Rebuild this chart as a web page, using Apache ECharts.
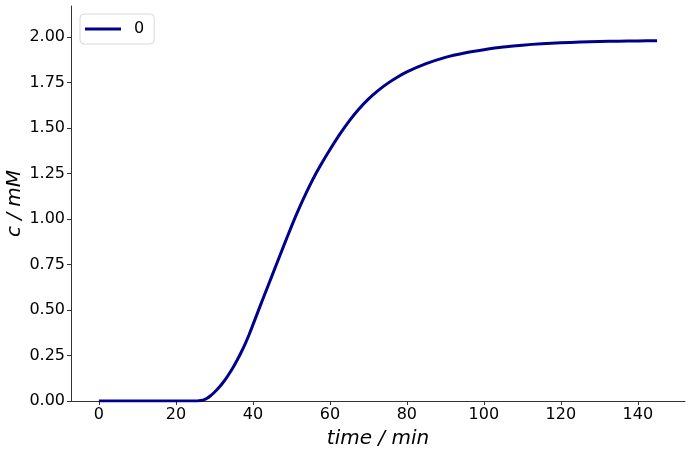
<!DOCTYPE html>
<html>
<head>
<meta charset="utf-8">
<script src="https://cdn.jsdelivr.net/npm/echarts@6/dist/echarts.min.js"></script>
<style>
  html, body { margin: 0; padding: 0; background: #fff; }
  #main { width: 690px; height: 452px; }
</style>
</head>
<body>
<div id="main"></div>
<script>
// time in minutes, concentration in mM
var timeMin = [0, 5, 10, 15, 20, 25, 26, 27, 28, 29, 30, 31, 32, 33, 34, 35, 36, 37, 38, 39, 40, 42, 44, 46, 48, 50,
  52, 54, 56, 58, 60, 62.5, 65, 67.5, 70, 72.5, 75, 77.5, 80, 85, 90, 95, 100, 105, 110, 115, 120, 125, 130, 135, 140, 145];
var concMM = [0, 0, 0, 0, 0, 0, 0.001, 0.005, 0.014, 0.029, 0.048, 0.07, 0.095, 0.123, 0.155, 0.19, 0.228, 0.269, 0.314, 0.364, 0.418, 0.528, 0.636, 0.744, 0.852, 0.958,
  1.058, 1.15, 1.235, 1.31, 1.38, 1.463, 1.538, 1.603, 1.658, 1.705, 1.745, 1.779, 1.808, 1.853, 1.888, 1.912, 1.93, 1.945, 1.955, 1.963, 1.968, 1.972, 1.975, 1.977, 1.978, 1.979];
var xTicks = [0, 20, 40, 60, 80, 100, 120, 140];
var yTicks = [0, 0.25, 0.5, 0.75, 1.0, 1.25, 1.5, 1.75, 2.0];
var seriesName = '0';

var points = [];
for (var i = 0; i < timeMin.length; i++) {
  points.push([timeMin[i], concMM[i]]);
}

var chart = echarts.init(document.getElementById('main'), null, { renderer: 'canvas' });
var font = 'DejaVu Sans';
var axisColor = '#333';

var option = {
  animation: false,
  backgroundColor: '#fff',
  grid: { left: 71, top: 6, right: 5, bottom: 51, containLabel: false, outerBoundsMode: 'none' },
  legend: {
    data: [seriesName],
    left: 80,
    top: 14,
    itemWidth: 36,
    itemHeight: 3,
    itemGap: 10,
    padding: [7, 10, 7, 5],
    borderColor: '#d8d8d8',
    borderWidth: 1,
    borderRadius: 4,
    icon: 'rect',
    textStyle: { fontFamily: font, fontSize: 16, color: '#000', padding: [0, 0, 0, 8] }
  },
  xAxis: {
    type: 'value',
    min: -7.25,
    max: 152.25,
    name: 'time / min',
    nameLocation: 'middle',
    nameGap: 28,
    nameTextStyle: { fontFamily: font, fontSize: 20, fontStyle: 'italic', color: '#000' },
    axisLine: { show: true, onZero: false, lineStyle: { color: axisColor, width: 1 } },
    axisTick: { show: true, length: 4, customValues: xTicks, lineStyle: { color: axisColor } },
    axisLabel: { customValues: xTicks, fontFamily: font, fontSize: 16, color: '#000', margin: 6 },
    splitLine: { show: false }
  },
  yAxis: {
    type: 'value',
    min: 0,
    max: 2.17,
    name: 'c / mM',
    nameLocation: 'middle',
    nameGap: 46,
    nameMoveOverlap: false,
    nameTextStyle: { fontFamily: font, fontSize: 20, fontStyle: 'italic', color: '#000' },
    axisLine: { show: true, onZero: false, lineStyle: { color: axisColor, width: 1 } },
    axisTick: { show: true, length: 4, customValues: yTicks, lineStyle: { color: axisColor } },
    axisLabel: {
      customValues: yTicks,
      fontFamily: font, fontSize: 16, color: '#000', margin: 6,
      formatter: function (v) { return v.toFixed(2); }
    },
    splitLine: { show: false }
  },
  series: [{
    name: seriesName,
    type: 'line',
    data: points,
    showSymbol: false,
    smooth: 0.2,
    color: '#00008b',
    lineStyle: { color: '#00008b', width: 3 }
  }]
};

chart.setOption(option);
</script>
</body>
</html>
